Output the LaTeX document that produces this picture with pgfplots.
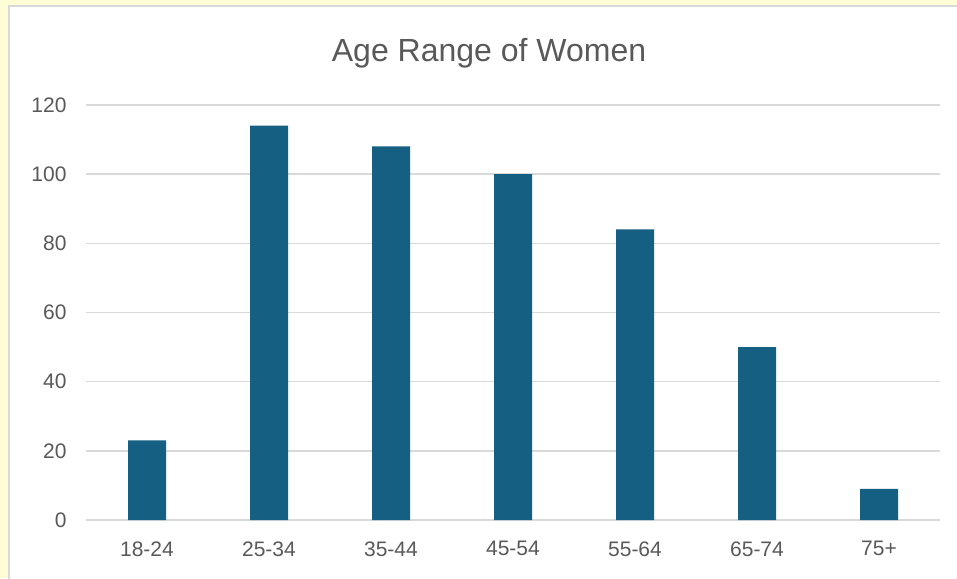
\documentclass[border=0pt]{standalone}
\usepackage{pgfplots}
\pgfplotsset{compat=1.18}
\usepackage{fontspec}
\setmainfont{Liberation Sans}
\definecolor{barblue}{HTML}{156082}
\definecolor{txtgrey}{HTML}{595959}
\definecolor{gridgrey}{HTML}{D9D9D9}
\definecolor{bgyellow}{HTML}{FFFDD6}
\begin{document}
\begin{tikzpicture}
\path[use as bounding box] (0,0) rectangle (957pt,578pt);
\fill[bgyellow] (0,0) rectangle (957pt,578pt);
\filldraw[fill=white, draw=gridgrey, line width=1.5pt] (9pt,-2pt) rectangle (960pt,572pt);
\node[txtgrey, font=\fontsize{32}{36}\selectfont] at (489pt,525pt) {Age Range of Women};
\begin{axis}[
  at={(86pt,58pt)}, anchor=south west,
  scale only axis, width=854pt, height=415pt,
  ymin=0, ymax=120, xmin=-0.5, xmax=6.5,
  ytick={0,20,...,120},
  xtick={0,...,6},
  xticklabels={18-24,25-34,35-44,45-54,55-64,65-74,75+},
  ybar, bar width=38pt,
  axis line style={draw=none},
  axis x line*=bottom,
  x axis line style={draw=gridgrey, line width=1.5pt},
  ymajorgrids, grid style={gridgrey, line width=1.5pt},
  major tick length=0pt,
  tick label style={txtgrey, font=\fontsize{21}{24}\selectfont},
  /pgf/number format/assume math mode=true,
  yticklabel style={xshift=-16pt},
  xticklabel style={yshift=-18pt},
  axis y line*=left, y axis line style={draw=none},
]
\addplot[fill=barblue, draw=none] coordinates {(0,23) (1,114) (2,108) (3,100) (4,84) (5,50) (6,9)};
\end{axis}
\end{tikzpicture}
\end{document}
